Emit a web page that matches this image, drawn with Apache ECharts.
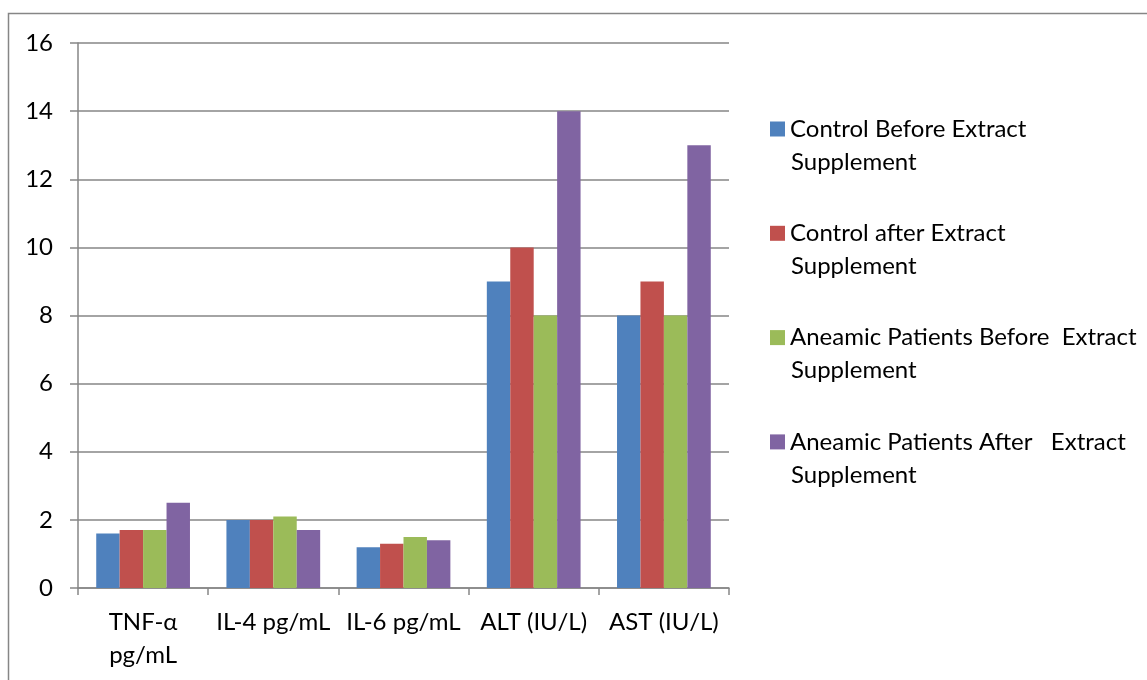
<!DOCTYPE html>
<html>
<head>
<meta charset="utf-8">
<script src="https://cdn.jsdelivr.net/npm/echarts@6/dist/echarts.min.js"></script>
<style>html,body{margin:0;padding:0;background:#fff;}#c{width:1147px;height:680px;}</style>
</head>
<body>
<div id="c"></div>
<script>
const categories = ['TNF-α\npg/mL', 'IL-4 pg/mL', 'IL-6 pg/mL', 'ALT (IU/L)', 'AST (IU/L)'];
const seriesNames = [
  'Control Before Extract\nSupplement',
  'Control after Extract\nSupplement',
  'Aneamic Patients Before  Extract\nSupplement',
  'Aneamic Patients After   Extract\nSupplement'
];
const controlBefore = [1.6, 2.0, 1.2, 9, 8];
const controlAfter = [1.7, 2.0, 1.3, 10, 9];
const aneamicBefore = [1.7, 2.1, 1.5, 8, 8];
const aneamicAfter = [2.5, 1.7, 1.4, 14, 13];
const yTicks = { min: 0, max: 16, interval: 2 };
const colors = ['#4F81BD', '#C0504D', '#9BBB59', '#8064A2'];

const FONT = 'Lato';
const FS = 24;
const chart = echarts.init(document.getElementById('c'), null, { renderer: 'canvas' });
const values = [controlBefore, controlAfter, aneamicBefore, aneamicAfter];
const firstLine = n => n.split('\n')[0];
const secondLine = n => n.split('\n')[1];
const firstCenter = 129, legendStep = 104.3;

chart.setOption({
  animation: false,
  color: colors,
  textStyle: { fontFamily: FONT },
  graphic: [
    { type: 'rect', shape: { x: 8.5, y: 13.5, width: 1200, height: 700 }, style: { fill: 'none', stroke: '#868686', lineWidth: 1.5 }, silent: true }
  ].concat(seriesNames.map((n, i) => ({
    type: 'text', x: 791, y: firstCenter + 33 + i * legendStep,
    style: { text: secondLine(n), font: FS + 'px ' + FONT, fill: '#000', verticalAlign: 'middle', align: 'left' }
  }))),
  grid: { left: 78, right: 418, top: 43, bottom: 92, containLabel: false },
  legend: {
    orient: 'vertical', left: 765, top: firstCenter - 12 - 5,
    itemWidth: 15, itemHeight: 15, itemGap: legendStep - 24,
    icon: 'rect',
    formatter: firstLine,
    textStyle: { fontSize: FS, fontFamily: FONT, color: '#000', lineHeight: 24 },
    data: seriesNames
  },
  xAxis: {
    type: 'category', data: categories,
    axisLine: { lineStyle: { color: '#868686', width: 1.5 } },
    axisTick: { show: true, length: 7, lineStyle: { color: '#868686', width: 1.5 } },
    axisLabel: { fontSize: FS, color: '#000', fontFamily: FONT, margin: 18, lineHeight: 33, interval: 0 }
  },
  yAxis: {
    type: 'value', min: yTicks.min, max: yTicks.max, interval: yTicks.interval,
    axisLine: { show: true, lineStyle: { color: '#868686', width: 1.5 } },
    axisTick: { show: true, length: 8, lineStyle: { color: '#868686', width: 1.5 } },
    splitLine: { lineStyle: { color: '#868686', width: 1.5 } },
    axisLabel: { fontSize: FS, color: '#000', fontFamily: FONT, margin: 25 }
  },
  series: seriesNames.map((n, i) => ({
    name: n, type: 'bar', data: values[i],
    barGap: '0%', barCategoryGap: '28%',
    itemStyle: { color: colors[i] }
  }))
});
</script>
</body>
</html>
